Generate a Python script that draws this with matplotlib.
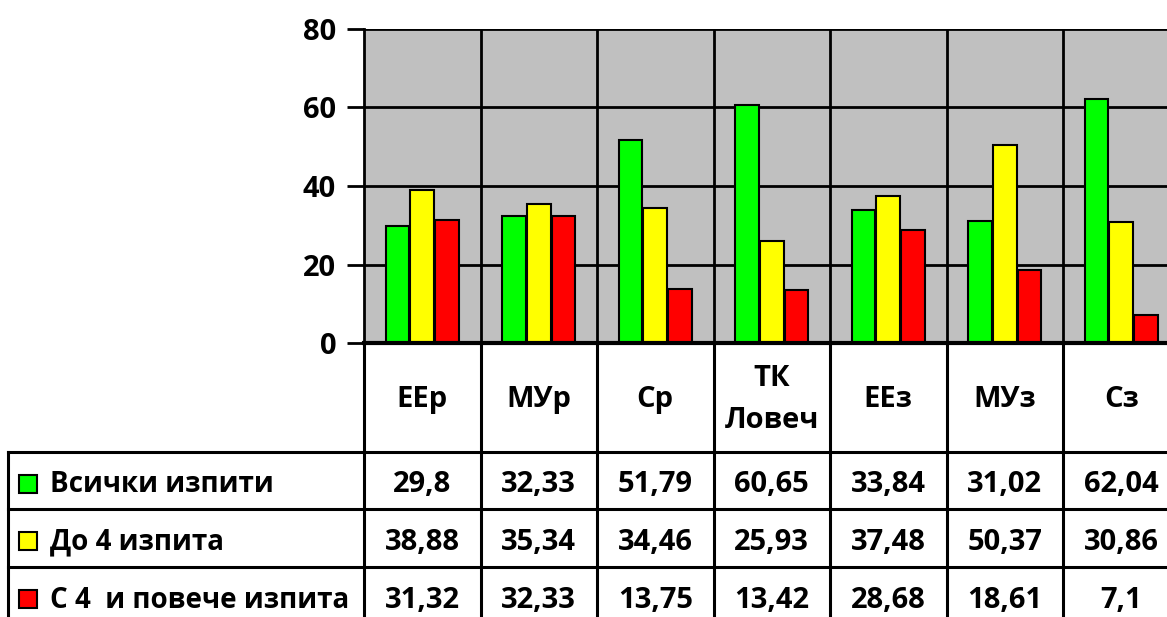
import matplotlib
matplotlib.use('Agg')
import matplotlib.pyplot as plt
from matplotlib.patches import Rectangle
import numpy as np

# donnees
categories = ['ЕЕр', 'МУр', 'Ср', 'ТК\nЛовеч', 'ЕЕз', 'МУз', 'Сз']
series_names = ['Всички изпити', 'До 4 изпита', 'С 4  и повече изпита']
vsichki = [29.8, 32.33, 51.79, 60.65, 33.84, 31.02, 62.04]
do4 = [38.88, 35.34, 34.46, 25.93, 37.48, 50.37, 30.86]
s4 = [31.32, 32.33, 13.75, 13.42, 28.68, 18.61, 7.1]
colors = ['#00FF00', '#FFFF00', '#FF0000']
yticks = [0, 20, 40, 60, 80]

plt.rcParams['font.family'] = ['Open Sans', 'DejaVu Sans']
plt.rcParams['font.weight'] = 'bold'
FS = 21

W, H = 1167, 617
fig = plt.figure(figsize=(W / 100, H / 100), dpi=100)

# zone du graphique (en pixels)
x0, colw = 364, 116.5
ytop, ybot = 29, 343
ncat = len(categories)
ax = fig.add_axes([x0 / W, 1 - ybot / H, ncat * colw / W, (ybot - ytop) / H])
ax.set_facecolor('#C0C0C0')
ax.set_xlim(-0.5, ncat - 0.5)
ax.set_ylim(0, 80)

x = np.arange(ncat)
bw = 0.205
for k, vals in enumerate([vsichki, do4, s4]):
    ax.bar(x + (k - 1) * 0.212, vals, bw, color=colors[k], edgecolor='black',
           linewidth=1.5, zorder=3)

for v in yticks[1:]:
    ax.axhline(v, color='black', lw=2, zorder=1)
for b in np.arange(0.5, ncat - 0.5, 1):
    ax.axvline(b, color='black', lw=2, zorder=1)

ax.set_yticks(yticks)
ax.set_yticklabels([str(v) for v in yticks], fontsize=FS, fontweight='bold')
ax.tick_params(axis='y', length=12, width=2, pad=8)
ax.tick_params(axis='x', bottom=False, labelbottom=False)
for s in ['top', 'right']:
    ax.spines[s].set_visible(False)
ax.spines['left'].set_linewidth(2)
ax.spines['bottom'].set_linewidth(3)
ax.spines['bottom'].set_zorder(5)

# tableau de donnees
tleft = 8
tax = fig.add_axes([tleft / W, 0, (x0 + ncat * colw - tleft) / W, (H - ybot) / H])
xl = -0.5 - (x0 - tleft) / colw
tax.set_xlim(xl, ncat - 0.5)
tax.set_ylim(H, ybot)
tax.axis('off')

rows = [ybot, 452, 509, 567, 625]
lw = 2.2
kw = dict(color='black', lw=lw, clip_on=False, solid_capstyle='projecting')
for r in rows[1:4]:
    tax.plot([xl, ncat - 0.5], [r, r], **kw)
tax.plot([xl, xl], [rows[1], H], **kw)
for b in np.arange(-0.5, ncat, 1):
    tax.plot([b, b], [ybot, H], **kw)

for i, c in enumerate(categories):
    tax.text(i, (rows[0] + rows[1]) / 2 + 2, c, ha='center', va='center',
             fontsize=FS, fontweight='bold', linespacing=1.55)

px = 1 / colw
for k, (name, vals) in enumerate(zip(series_names, [vsichki, do4, s4])):
    yc = (rows[k + 1] + rows[k + 2]) / 2 + 4
    tax.add_patch(Rectangle((xl + 11 * px, yc - 10), 18 * px, 18, facecolor=colors[k],
                            edgecolor='black', lw=1.5, clip_on=False))
    tax.text(xl + 42 * px, yc, name, ha='left', va='center', fontsize=20, fontweight='bold')
    for i, v in enumerate(vals):
        tax.text(i, yc, ('%g' % v).replace('.', ','), ha='center', va='center',
                 fontsize=FS, fontweight='bold')

fig.savefig('out.png', dpi=100)
